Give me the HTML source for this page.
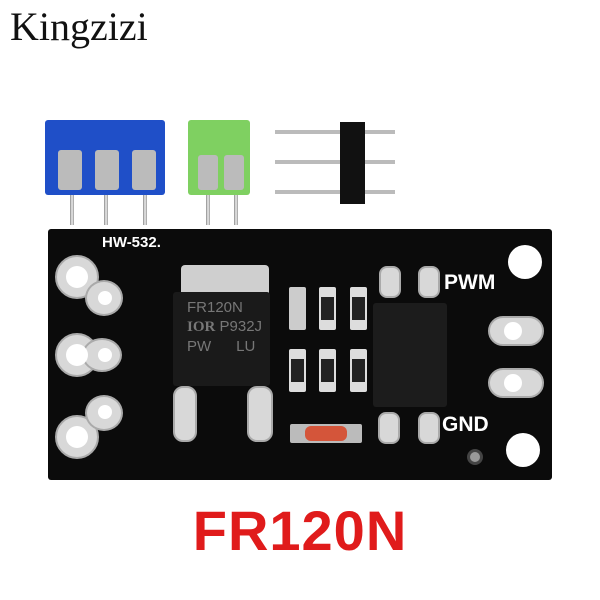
<!DOCTYPE html>
<html><head><style>
body{margin:0;width:600px;height:600px;background:#fff;position:relative;overflow:hidden;font-family:"Liberation Sans",sans-serif}
div{position:absolute;box-sizing:border-box}
.pin{background:linear-gradient(90deg,#888,#eee,#999);width:4px}
.res{width:17px;height:43px;background:#ddd;border-radius:2px}
.res i{position:absolute;left:2px;right:2px;top:10px;bottom:10px;background:#222}
.slv{background:#d8d8d8;border:2px solid #aaa}
.hole{background:#fff;border-radius:50%}
.wt{color:#fff;font-weight:bold}
</style></head><body>
<div style="left:10px;top:3px;font:40px 'Liberation Serif',serif;color:#111">Kingzizi</div>

<!-- blue terminal -->
<div style="left:45px;top:120px;width:120px;height:75px;background:#1f4fc8;border-radius:3px"></div>
<div style="left:58px;top:150px;width:24px;height:40px;background:#bbb;border-radius:3px"></div>
<div style="left:95px;top:150px;width:24px;height:40px;background:#bbb;border-radius:3px"></div>
<div style="left:132px;top:150px;width:24px;height:40px;background:#bbb;border-radius:3px"></div>
<div class="pin" style="left:70px;top:195px;height:30px"></div>
<div class="pin" style="left:104px;top:195px;height:30px"></div>
<div class="pin" style="left:143px;top:195px;height:30px"></div>
<!-- green terminal -->
<div style="left:188px;top:120px;width:62px;height:75px;background:#7fd061;border-radius:3px"></div>
<div style="left:198px;top:155px;width:20px;height:35px;background:#bbb;border-radius:3px"></div>
<div style="left:224px;top:155px;width:20px;height:35px;background:#bbb;border-radius:3px"></div>
<div class="pin" style="left:206px;top:195px;height:30px"></div>
<div class="pin" style="left:234px;top:195px;height:30px"></div>
<!-- header -->
<div style="left:275px;top:130px;width:120px;height:4px;background:#bbb"></div>
<div style="left:275px;top:160px;width:120px;height:4px;background:#bbb"></div>
<div style="left:275px;top:190px;width:120px;height:4px;background:#bbb"></div>
<div style="left:340px;top:122px;width:25px;height:82px;background:#111"></div>

<!-- PCB -->
<div style="left:48px;top:229px;width:504px;height:251px;background:#0b0b0b;border-radius:3px"></div>
<div class="wt" style="left:102px;top:234px;font-size:15px">HW-532.</div>
<!-- left pads -->
<div class="slv" style="left:55px;top:255px;width:44px;height:44px;border-radius:50%"></div>
<div class="slv" style="left:85px;top:280px;width:38px;height:36px;border-radius:50%"></div>
<div class="hole" style="left:66px;top:266px;width:22px;height:22px"></div>
<div class="hole" style="left:98px;top:291px;width:14px;height:14px"></div>
<div class="slv" style="left:55px;top:333px;width:44px;height:44px;border-radius:50%"></div>
<div class="slv" style="left:82px;top:338px;width:40px;height:34px;border-radius:50%"></div>
<div class="hole" style="left:66px;top:344px;width:22px;height:22px"></div>
<div class="hole" style="left:98px;top:348px;width:14px;height:14px"></div>
<div class="slv" style="left:55px;top:415px;width:44px;height:44px;border-radius:50%"></div>
<div class="slv" style="left:85px;top:395px;width:38px;height:36px;border-radius:50%"></div>
<div class="hole" style="left:66px;top:426px;width:22px;height:22px"></div>
<div class="hole" style="left:98px;top:405px;width:14px;height:14px"></div>
<!-- mosfet -->
<div style="left:181px;top:265px;width:88px;height:30px;background:#cfcfcf;border-radius:4px 4px 0 0"></div>
<div class="slv" style="left:173px;top:386px;width:24px;height:56px;border-radius:10px"></div>
<div class="slv" style="left:247px;top:386px;width:26px;height:56px;border-radius:10px"></div>
<div style="left:173px;top:292px;width:97px;height:94px;background:#1a1a1a;border-radius:3px;color:#777;font-size:15px;line-height:19px;padding:6px 0 0 14px">FR120N<br><b style="font-family:'Liberation Serif'">IOR</b> P932J<br>PW &nbsp;&nbsp;&nbsp;&nbsp;&nbsp;LU</div>
<!-- resistors -->
<div class="res" style="left:289px;top:287px;background:#ccc"></div>
<div class="res" style="left:319px;top:287px"><i></i></div>
<div class="res" style="left:350px;top:287px"><i></i></div>
<div class="res" style="left:289px;top:349px"><i></i></div>
<div class="res" style="left:319px;top:349px"><i></i></div>
<div class="res" style="left:350px;top:349px"><i></i></div>
<!-- diode -->
<div style="left:290px;top:424px;width:72px;height:19px;background:#bbb;border-radius:2px"></div>
<div style="left:305px;top:426px;width:42px;height:15px;background:#d4553a;border-radius:6px"></div>
<!-- opto -->
<div class="slv" style="left:379px;top:266px;width:22px;height:32px;border-radius:8px"></div>
<div class="slv" style="left:418px;top:266px;width:22px;height:32px;border-radius:8px"></div>
<div class="slv" style="left:378px;top:412px;width:22px;height:32px;border-radius:8px"></div>
<div class="slv" style="left:418px;top:412px;width:22px;height:32px;border-radius:8px"></div>
<div style="left:373px;top:303px;width:74px;height:104px;background:#1c1c1c;border-radius:3px"></div>
<div class="wt" style="left:444px;top:271px;font-size:21px">PWM</div>
<div class="wt" style="left:442px;top:413px;font-size:21px">GND</div>
<!-- right -->
<div class="hole" style="left:508px;top:245px;width:34px;height:34px"></div>
<div class="hole" style="left:506px;top:433px;width:34px;height:34px"></div>
<div class="slv" style="left:488px;top:316px;width:56px;height:30px;border-radius:15px"></div>
<div class="hole" style="left:504px;top:322px;width:18px;height:18px"></div>
<div class="slv" style="left:488px;top:368px;width:56px;height:30px;border-radius:15px"></div>
<div class="hole" style="left:504px;top:374px;width:18px;height:18px"></div>
<div style="left:467px;top:449px;width:16px;height:16px;border-radius:50%;background:#999;border:3px solid #444"></div>

<div style="left:0;width:600px;top:498px;text-align:center;color:#e01b1b;font-weight:bold;font-size:56px;letter-spacing:1px">FR120N</div>
</body></html>
